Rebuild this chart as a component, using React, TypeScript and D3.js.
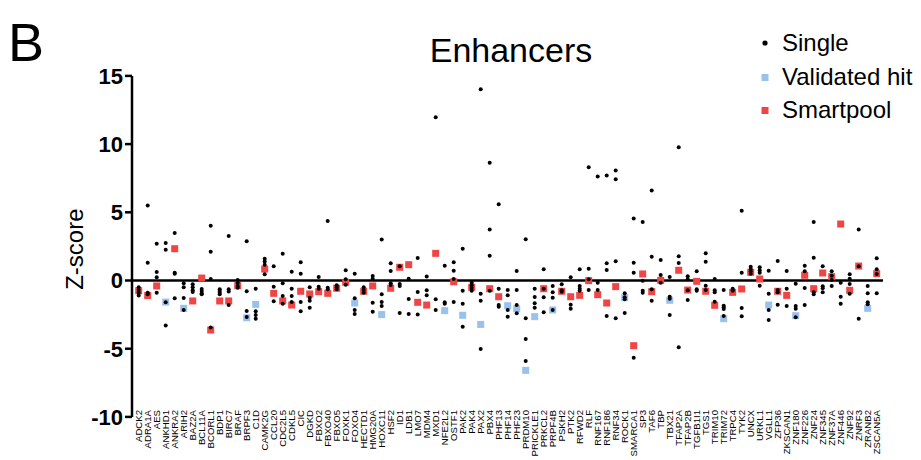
import React from 'react';
import { scaleLinear, scalePoint } from 'd3';

const genes = ['ADCK2','ADRA1A','AES','ANKHD1','ANKRA2','ARIH2','BAZ2A','BCL11A','BCORL1','BDP1','BIRC7','BRAF','BRPF3','C1D','CAMK2G','CCL20','CDC2L5','CDKL5','CIC','DGKD','FBXO2','FBXO40','FBXO5','FOXK1','FOXO4','HECTD1','HMG20A','HOXC11','HSF2','ID1','LDB1','LMO7','MDM4','MXD1','NFE2L2','OSTF1','PAK2','PAK4','PAX2','PBX4','PHF13','PHF14','PHF23','PRDM10','PRICKLE1','PRKCL2','PRPF4B','PSKH2','PTK2','RFWD2','RLF','RNF167','RNF186','RNF34','ROCK1','SMARCA1','SP3','TAF6','TBP','TBX21','TFAP2A','TFAP2B','TGFB1I1','TGS1','TRIM10','TRIM72','TRPC4','TYK2','UNCX','URKL1','VGLL1','ZFP36','ZKSCAN1','ZNF180','ZNF226','ZNF24','ZNF345','ZNF37A','ZNF446','ZNF92','ZNRF3','ZRANB2','ZSCAN5A'];

// single siRNA z-scores, one list per gene
const singleZ = [
  [-0.5,-0.7,-0.9,-1.1],[5.5,1.3,-0.9,-1.0],[2.7,0.62,0.23,-0.89],[2.75,2.26,-1.6,-3.3],[3.48,0.57,0.5,-1.31],
  [-0.2,-0.5,-1.28,-2.16],[-0.28,-0.5,-0.72,-0.84],[-0.62,-0.77,-0.94,-1.0],[4.02,2.11,0.11,-3.44],[-0.65,-0.77,-0.89,-1.0],
  [3.26,-0.65,-0.8,-1.8],[0.04,-0.16,-0.4,-0.53],[2.87,-0.79,-2.24,-2.68],[-0.6,-2.26,-2.53,-2.8],[1.6,1.4,1.16,0.45],
  [1.04,-0.45,-1.53],[1.97,-0.2,-1.14,-1.7],[0.65,-0.6,-1.14,-1.58],[1.33,0.5,-1.58,-2.26],[-0.5,-1.26,-1.48,-2.0],
  [0.26,-0.45,-0.6],[4.36,-0.53,-0.65],[-0.35,-0.5,-0.65],[0.75,0.09,-0.31],[0.5,-1.31,-2.16,-2.46],
  [-0.5,-0.7,-0.89],[0.33,0.13,-1.63,-2.29],[3.0,-1.01,-1.58,-1.87],[1.26,0.7,-0.2,-0.33],[1.04,-0.26,-0.4,-2.38],
  [0.13,-1.36,-2.46],[1.65,-0.84,-2.5],[0.3,-0.72,-1.09],[11.97,-1.38,-2.16],[1.09,-1.6,-1.7],
  [1.33,0.72,0.11,-1.58],[2.33,-0.75,-1.7,-3.39],[-0.16,-0.35,-0.55,-0.75],[14.02,-0.97,-1.48,-5.02],[8.64,3.73,1.82,-0.75],
  [5.59,-0.6,-1.8,-1.92],[-0.7,-1.09,-2.16,-2.65],[0.7,-0.7,-1.8,-2.41],[3.02,-2.77,-4.29,-5.9],[-0.6,-1.21,-1.67,-1.99],
  [0.82,-0.6,-1.23,-2.33],[-0.4,-0.87,-1.26,-2.16],[-0.28,-0.72,-0.82],[0.23,-1.77,-2.07],[0.82,-0.4,-0.6,-0.75],
  [8.3,0.87,0.09,-0.7],[7.62,-0.16,-0.7],[7.69,1.26,0.77,-2.6],[8.06,7.42,1.41,-2.77],[-0.94,-1.23,-1.38,-2.38],
  [4.54,1.31,0.57,-5.66],[4.29,-0.01,-0.75,-0.89],[6.59,1.75,-0.65,-1.48],[1.5,0.4,-0.16],[0.26,-1.19,-1.33,-2.53],
  [9.77,1.77,1.28,-4.9],[0.31,0.09,-0.72,-1.43],[0.67,-0.65,-0.75],[1.99,1.38,-0.38,-0.7],[0.11,-0.72,-0.87,-1.55],
  [-0.7,-1.85,-1.97,-2.09,-2.6],[-0.6,-0.7,-0.75],[5.12,0.57,-2.02,-2.63],[1.01,0.84,0.67,0.5],[0.97,0.75,0.57,-0.38],
  [0.72,-0.97,-2.16,-2.9],[1.43,-0.7,-0.87,-1.77],[0.7,-0.6,-1.87],[-0.23,-1.87,-2.07,-2.7],[1.09,0.67,-0.55,-1.8],
  [4.29,1.67,-0.87,-1.01],[1.04,-0.43,-0.57,-0.87],[0.67,0.35,0.04,-0.4],[-0.16,-1.19,-1.7],[0.45,0.13,-0.26,-0.97],
  [3.73,1.04,-2.8],[-0.4,-0.94,-1.6,-1.75],[1.63,0.82,0.48,-0.94],
];

// smartpool z-score per gene
const poolZ = [
  -0.75,-1.1,-0.4,-1.58,2.33,-2.04,-1.5,0.18,-3.63,-1.5,
  -1.5,-0.38,-2.73,-1.75,0.84,-0.94,-1.5,-1.8,-0.79,-0.99,
  -0.82,-0.94,-0.57,-0.13,-1.65,-0.79,-0.4,-2.5,-0.57,0.97,
  1.16,-1.6,-1.8,1.99,-2.21,-0.09,-2.55,-0.5,-3.22,-0.6,
  -1.19,-1.85,-2.07,-6.59,-2.65,-0.6,-2.16,-0.79,-1.19,-1.09,
  -0.01,-1.04,-1.65,-0.45,-1.26,-4.78,0.48,-0.82,0.01,-1.45,
  0.75,-0.7,-0.06,-0.79,-1.82,-2.8,-0.87,-0.62,0.6,0.11,
  -1.8,-0.79,-1.09,-2.58,0.38,-0.6,0.55,0.28,4.14,-0.72,
  1.06,-2.04,0.5,
];

const validatedHits = ['ANKHD1','ARIH2','BRPF3','C1D','FOXO4','HOXC11','NFE2L2','PAK2','PAX2','PHF14','PHF23','PRDM10','PRICKLE1','PRPF4B','ROCK1','TBX21','TRIM72','VGLL1','ZNF180','ZRANB2'];

const yTicks = [15, 10, 5, 0, -5, -10];

const RED = '#f04545';
const BLUE = '#98c1ee';
const FONT = '"Liberation Sans", Arial, sans-serif';

export default function App() {
  const width = 921;
  const height = 460;

  const x = scalePoint<string>().domain(genes).range([138.7, 876.7]);
  const y = scaleLinear().domain([-10, 15]).range([416.9, 75.9]);

  const axisX = 132;
  const sq = 7;

  return (
    <svg width={width} height={height} style={{ position: 'absolute', left: 0, top: 0, background: '#fff' }}>
      <text x={8} y={61} fontFamily={FONT} fontSize={54} fill="#000">B</text>
      <text x={511} y={62} textAnchor="middle" fontFamily={FONT} fontSize={34} fill="#000">Enhancers</text>

      {/* legend */}
      <g fontFamily={FONT} fontSize={24} fill="#000">
        <circle cx={765} cy={43} r={2.6} fill="#000" />
        <text x={782} y={51}>Single</text>
        <rect x={761.5} y={74} width={sq} height={sq} fill={BLUE} />
        <text x={782} y={85}>Validated hit</text>
        <rect x={761.5} y={107} width={sq} height={sq} fill={RED} />
        <text x={782} y={118}>Smartpool</text>
      </g>

      {/* y axis */}
      <line x1={axisX} x2={axisX} y1={y(15)} y2={y(-10)} stroke="#000" strokeWidth={2.5} />
      {yTicks.map(t => (
        <g key={t}>
          <line x1={axisX - 7} x2={axisX} y1={y(t)} y2={y(t)} stroke="#000" strokeWidth={2.5} />
          <text x={123} y={y(t)} dy="0.36em" textAnchor="end" fontFamily={FONT} fontWeight="bold" fontSize={22}>{t}</text>
        </g>
      ))}
      <text transform={`translate(83,${y(2.3)}) rotate(-90)`} textAnchor="middle" fontFamily={FONT} fontSize={24}>Z-score</text>

      {/* zero line */}
      <line x1={axisX} x2={883} y1={y(0)} y2={y(0)} stroke="#000" strokeWidth={2.5} />

      {/* smartpool squares */}
      {genes.map((g, i) => (
        <rect key={g} x={(x(g) as number) - sq / 2} y={y(poolZ[i]) - sq / 2} width={sq} height={sq}
          fill={validatedHits.includes(g) ? BLUE : RED} />
      ))}

      {/* single siRNA dots */}
      {genes.map((g, i) => singleZ[i].map((v, j) => (
        <circle key={`${g}-${j}`} cx={x(g) as number} cy={y(v)} r={2} fill="#000" />
      )))}

      {/* gene labels */}
      {genes.map(g => (
        <text key={g} transform={`translate(${x(g)},410) rotate(-90)`} textAnchor="end" dy="0.35em"
          fontFamily={FONT} fontSize={9.6}>{g}</text>
      ))}
    </svg>
  );
}
